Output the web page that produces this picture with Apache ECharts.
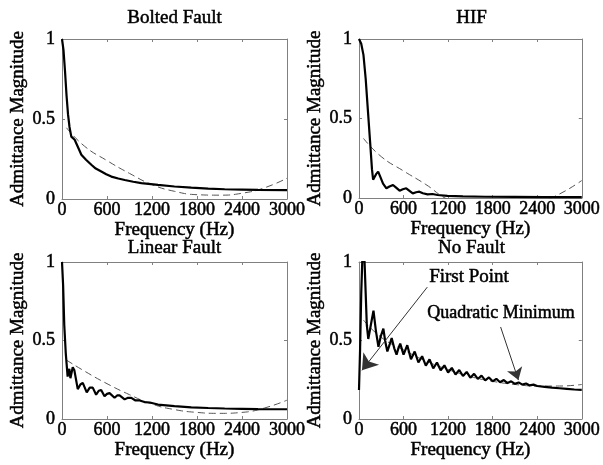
<!DOCTYPE html>
<html>
<head>
<meta charset="utf-8">
<script src="https://cdn.jsdelivr.net/npm/echarts@6.0.0/dist/echarts.min.js"></script>
<style>
  html, body { margin: 0; padding: 0; background: #fff; }
  #chart { width: 603px; height: 465px; }
</style>
</head>
<body>
<div id="chart"></div>
<script>
// admittance magnitude vs frequency, four fault cases, each with its quadratic fit
const panelTitles = ['Bolted Fault', 'HIF', 'Linear Fault', 'No Fault'];
const xTicks = [0, 600, 1200, 1800, 2400, 3000];
const yTicks = [0, 0.5, 1];

// quadratic fit samples (same frequencies for every panel)
const fitFreq = [60, 300, 600, 900, 1200, 1500, 1800, 2100, 2400, 2700, 3000];

const boltedFreq = [0, 20, 40, 60, 80, 100, 124, 169, 236, 258, 320, 391, 450, 524, 590, 658, 750, 836, 950, 1058, 1280, 1500, 1724, 1950, 2169, 2400, 2613, 3000];
const boltedMag = [1.0, 0.93, 0.8, 0.65, 0.53, 0.45, 0.39, 0.37, 0.3, 0.277, 0.245, 0.214, 0.19, 0.172, 0.155, 0.14, 0.128, 0.119, 0.108, 0.099, 0.088, 0.078, 0.071, 0.065, 0.061, 0.059, 0.057, 0.056];
const boltedFit = [0.445, 0.33, 0.24, 0.16, 0.09, 0.048, 0.027, 0.024, 0.036, 0.07, 0.13];

const hifFreq = [0, 30, 60, 90, 120, 150, 175, 190, 205, 230, 258, 290, 324, 369, 410, 458, 500, 547, 590, 636, 680, 724, 770, 813, 860, 924, 990, 1058, 1191, 1400, 1700, 2100, 2500, 3000];
const hifMag = [1.0, 0.97, 0.9, 0.75, 0.55, 0.35, 0.18, 0.115, 0.12, 0.15, 0.166, 0.13, 0.09, 0.061, 0.072, 0.082, 0.065, 0.046, 0.055, 0.061, 0.045, 0.029, 0.036, 0.04, 0.03, 0.023, 0.025, 0.019, 0.013, 0.01, 0.008, 0.007, 0.006, 0.006];
const hifFit = [0.375, 0.26, 0.17, 0.085, -0.01, -0.05, -0.065, -0.06, -0.03, 0.025, 0.11];

const linearFreq = [0, 15, 30, 50, 75, 98, 112, 143, 165, 210, 245, 277, 330, 370, 410, 455, 490, 522, 567, 600, 634, 701, 735, 768, 835, 880, 924, 980, 1036, 1100, 1170, 1280, 1500, 1724, 1950, 2169, 2400, 2613, 3000];
const linearMag = [1.0, 0.85, 0.6, 0.42, 0.27, 0.32, 0.26, 0.33, 0.31, 0.19, 0.22, 0.23, 0.17, 0.2, 0.2, 0.155, 0.18, 0.185, 0.145, 0.16, 0.165, 0.135, 0.15, 0.15, 0.125, 0.135, 0.135, 0.118, 0.118, 0.108, 0.105, 0.092, 0.082, 0.074, 0.07, 0.067, 0.065, 0.063, 0.062];
const linearFit = [0.375, 0.305, 0.225, 0.155, 0.095, 0.06, 0.042, 0.036, 0.042, 0.07, 0.12];

const noFaultFreq = [0, 15, 30, 45, 60, 75, 90, 105, 125, 160, 195, 228, 262, 295, 328, 355, 382, 410, 440, 475, 506, 530, 555,
  600, 650, 700, 750, 800, 850, 900, 950, 1000, 1050, 1100, 1150, 1200, 1250, 1300, 1350, 1400, 1450, 1500, 1550, 1600, 1650,
  1700, 1750, 1800, 1850, 1900, 1950, 2000, 2050, 2100, 2150, 2200, 2250, 2300, 2350, 2400, 2500, 2600, 2700, 2800, 2900, 3000];
const noFaultMag = [0.185, 0.45, 0.8, 1.02, 1.06, 1.0, 0.8, 0.6, 0.51, 0.6, 0.69, 0.56, 0.46, 0.53, 0.575, 0.49, 0.43, 0.47, 0.515, 0.45, 0.41, 0.45, 0.48,
  0.41, 0.47, 0.38, 0.43, 0.36, 0.4, 0.34, 0.38, 0.322, 0.36, 0.31, 0.342, 0.296, 0.326, 0.283, 0.312, 0.274, 0.3, 0.263, 0.288, 0.255, 0.276,
  0.246, 0.265, 0.24, 0.256, 0.234, 0.248, 0.229, 0.24, 0.224, 0.233, 0.219, 0.226, 0.214, 0.219, 0.21, 0.205, 0.2, 0.196, 0.192, 0.188, 0.185];
const noFaultFit = [0.63, 0.52, 0.44, 0.37, 0.315, 0.27, 0.24, 0.22, 0.21, 0.21, 0.22];

// annotation arrows in No Fault panel, [from, to] in data units
const firstPointArrow = [[920, 0.84], [40, 0.31]];
const quadMinArrow = [[1907, 0.586], [2147, 0.248]];

const FONT = 'Liberation Serif';
const axisGray = '#808080';
// the reference text is a little heavy, thicken the glyphs slightly
const heavy = { textBorderColor: '#000', textBorderWidth: 0.5 };

const grids = [
  { left: 62, top: 39, width: 225, height: 160 },
  { left: 359, top: 39, width: 225, height: 159 },
  { left: 62, top: 262, width: 225, height: 157 },
  { left: 359, top: 262, width: 225, height: 157 }
];

const pairs = (xs, ys) => xs.map((x, i) => [x, ys[i]]);

function xAxes(g) {
  let base = {
    gridIndex: g, type: 'value', min: xTicks[0], max: xTicks[xTicks.length - 1], interval: xTicks[1] - xTicks[0],
    axisLine: { onZero: false, lineStyle: { color: axisGray, width: 1 } },
    axisTick: { inside: true, length: 3, lineStyle: { color: axisGray } },
    splitLine: { show: false }
  };
  return [
    Object.assign({}, base, {
      position: 'bottom',
      name: 'Frequency (Hz)', nameLocation: 'middle', nameGap: 18,
      nameTextStyle: Object.assign({ fontFamily: FONT, fontSize: 19, color: '#000' }, heavy),
      axisLabel: Object.assign({ fontFamily: FONT, fontSize: 18, color: '#000', margin: 2, formatter: v => String(v) }, heavy)
    }),
    Object.assign({}, base, { position: 'top', axisLabel: { show: false } })
  ];
}

function yAxes(g) {
  let base = {
    gridIndex: g, type: 'value', min: yTicks[0], max: yTicks[yTicks.length - 1], interval: yTicks[1] - yTicks[0],
    axisLine: { onZero: false, lineStyle: { color: axisGray, width: 1 } },
    axisTick: { inside: true, length: 3, lineStyle: { color: axisGray } },
    splitLine: { show: false }
  };
  return [
    Object.assign({}, base, {
      position: 'left',
      name: 'Admittance Magnitude', nameLocation: 'middle', nameGap: 34,
      nameTextStyle: Object.assign({ fontFamily: FONT, fontSize: 19, color: '#000' }, heavy),
      axisLabel: Object.assign({ fontFamily: FONT, fontSize: 18, color: '#000', margin: 7, formatter: v => String(v) }, heavy)
    }),
    Object.assign({}, base, { position: 'right', axisLabel: { show: false } })
  ];
}

const solidData = [
  pairs(boltedFreq, boltedMag),
  pairs(hifFreq, hifMag),
  pairs(linearFreq, linearMag),
  pairs(noFaultFreq, noFaultMag)
];
const fitData = [boltedFit, hifFit, linearFit, noFaultFit].map(f => pairs(fitFreq, f));

let series = [];
for (let g = 0; g < 4; g++) {
  series.push({
    type: 'line', xAxisIndex: g * 2, yAxisIndex: g * 2,
    data: fitData[g], smooth: true, symbol: 'none', silent: true,
    lineStyle: { color: '#555', width: 1, type: [7, 4] }
  });
  series.push({
    type: 'line', xAxisIndex: g * 2, yAxisIndex: g * 2,
    data: solidData[g], symbol: 'none', silent: true,
    lineStyle: { color: '#000', width: 2.2 }
  });
}
series[7].markLine = {
  silent: true, symbol: ['none', 'arrow'], symbolSize: 12,
  lineStyle: { color: '#333', width: 1, type: 'solid' },
  label: { show: false },
  data: [
    [{ coord: firstPointArrow[0] }, { coord: firstPointArrow[1], symbolSize: 15 }],
    [{ coord: quadMinArrow[0] }, { coord: quadMinArrow[1], symbolSize: 12 }]
  ]
};

const titleY = [18, 18, 248, 248];
const textStyle = (text, size) => Object.assign({
  text: text, fontFamily: FONT, fontSize: size, fill: '#000', align: 'center', verticalAlign: 'middle',
  stroke: '#000', lineWidth: 0.5
});
let graphic = grids.map((gr, i) => ({
  type: 'text', x: gr.left + gr.width / 2, y: titleY[i], style: textStyle(panelTitles[i], 19)
}));
graphic.push({ type: 'text', x: 469, y: 277, style: textStyle('First Point', 19) });
graphic.push({ type: 'text', x: 501, y: 313, style: textStyle('Quadratic Minimum', 18) });

let option = {
  backgroundColor: '#fff',
  animation: false,
  grid: grids,
  xAxis: [0, 1, 2, 3].flatMap(xAxes),
  yAxis: [0, 1, 2, 3].flatMap(yAxes),
  series: series,
  graphic: graphic
};

let myChart = echarts.init(document.getElementById('chart'));
myChart.setOption(option);
</script>
</body>
</html>
